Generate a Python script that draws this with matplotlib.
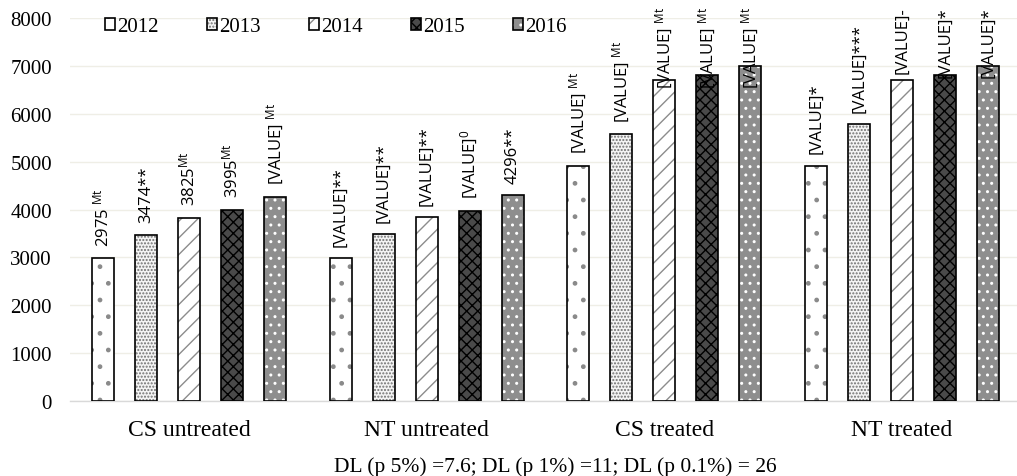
import matplotlib
matplotlib.use('Agg')
import matplotlib.pyplot as plt
import matplotlib.patches as mpatches
import numpy as np

plt.rcParams['font.family'] = ['Liberation Serif', 'DejaVu Serif']
plt.rcParams['mathtext.fontset'] = 'custom'
plt.rcParams['mathtext.rm'] = 'Open Sans'
plt.rcParams['mathtext.it'] = 'Open Sans'
plt.rcParams['hatch.linewidth'] = 1.0

groups = ['CS untreated', 'NT untreated', 'CS treated', 'NT treated']
years = ['2012', '2013', '2014', '2015', '2016']

# yield per year, one list per year, ordered like groups
y2012 = [2975, 2985, 4915, 4915]
y2013 = [3474, 3487, 5573, 5782]
y2014 = [3825, 3837, 6703, 6703]
y2015 = [3995, 3975, 6814, 6814]
y2016 = [4268, 4296, 7008, 7008]

labels2012 = ['2975 $^{\\mathrm{Mt}}$', '[VALUE]**', '[VALUE] $^{\\mathrm{Mt}}$', '[VALUE]*']
labels2013 = ['3474**', '[VALUE]**', '[VALUE] $^{\\mathrm{Mt}}$', '[VALUE]***']
labels2014 = ['3825$^{\\mathrm{Mt}}$', '[VALUE]**', '[VALUE] $^{\\mathrm{Mt}}$', '[VALUE]-']
labels2015 = ['3995$^{\\mathrm{Mt}}$', '[VALUE]$^{0}$', '[VALUE] $^{\\mathrm{Mt}}$', '[VALUE]*']
labels2016 = ['[VALUE] $^{\\mathrm{Mt}}$', '4296**', '[VALUE] $^{\\mathrm{Mt}}$', '[VALUE]*']

series = [y2012, y2013, y2014, y2015, y2016]
series_labels = [labels2012, labels2013, labels2014, labels2015, labels2016]

# fill colour, hatch, hatch colour
styles = [
    ('white', '.', '#8a8a8a'),
    ('#f4f4f4', '.....', '#707070'),
    ('white', '//', '#8c8c8c'),
    ('#4a4a4a', 'xxx', 'black'),
    ('#8e8e8e', '..', 'white'),
]

W, H = 1017, 477
fig = plt.figure(figsize=(W / 100, H / 100), dpi=100)
ax = fig.add_axes([70 / W, (H - 401.7) / H, 951 / W, 382.4 / H])

x = np.arange(len(groups))
step = 0.181
width = 0.093

handles = []
anns = []
for i, (vals, labs) in enumerate(zip(series, series_labels)):
    fc, hatch, hc = styles[i]
    xs = x + (i - 2) * step
    ax.bar(xs, vals, width, color=fc, edgecolor=hc, hatch=hatch, linewidth=0, zorder=2)
    ax.bar(xs, vals, width, facecolor='none', edgecolor='black', linewidth=1.2, zorder=3)
    for xi, v, lab in zip(xs, vals, labs):
        a = ax.annotate(lab, xy=(xi, v), xytext=(0, 9), textcoords='offset points',
                        rotation=90, ha='center', va='bottom', fontsize=12,
                        family='Open Sans', zorder=4, annotation_clip=False)
        anns.append(a)
    h1 = mpatches.Patch(facecolor=fc, edgecolor=hc, hatch=hatch, linewidth=0)
    h2 = mpatches.Patch(facecolor='none', edgecolor='black', linewidth=1.2)
    handles.append((h1, h2))

ax.set_xlim(-0.5, 3.5)
ax.set_ylim(0, 8000)
ax.set_yticks(np.arange(0, 8001, 1000))
ax.set_xticks(x)
ax.set_xticklabels(groups, fontsize=17)
ax.tick_params(axis='x', length=0, pad=13)
ax.tick_params(axis='y', length=0, pad=13, labelsize=15)
ax.yaxis.grid(True, color='#efeee6', linewidth=1, zorder=0)
ax.set_axisbelow(True)
for s in ['top', 'right', 'left']:
    ax.spines[s].set_visible(False)
ax.spines['bottom'].set_color('#d9d9d9')
ax.spines['bottom'].set_linewidth(1)

fig.legend(handles, years, loc='center left', bbox_to_anchor=(105 / W, 1 - 28 / H),
           ncol=5, frameon=False, fontsize=15, handlelength=0.5, handleheight=0.5,
           handletextpad=0.1, columnspacing=2.3, borderpad=0, borderaxespad=0)

fig.text(555 / W, 1 - 467 / H, 'DL (p 5%) =7.6; DL (p 1%) =11; DL (p 0.1%) = 26',
         ha='center', va='center', fontsize=15.5)

# keep the value labels inside the picture, like the original
fig.canvas.draw()
r = fig.canvas.get_renderer()
for a in anns:
    ext = a.get_window_extent(r)
    over = ext.y1 - (H - 7)
    if over > 0:
        a.xyann = (0, 9 - over * 72 / 100)

fig.savefig('out.png', dpi=100)
